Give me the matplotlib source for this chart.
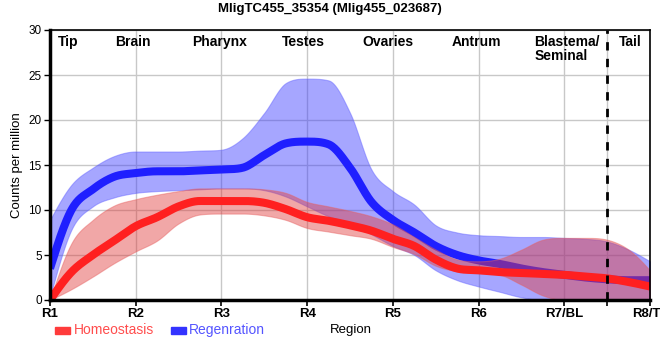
import numpy as np
import matplotlib
matplotlib.use("Agg")
import matplotlib.pyplot as plt
from matplotlib.patches import Rectangle

# ---------------- data ----------------
positions = [0, 0.25, 0.5, 0.75, 1, 1.25, 1.5, 1.75, 2, 2.25, 2.5, 2.75, 3, 3.25, 3.5,
             3.75, 4, 4.25, 4.5, 4.75, 5, 5.25, 5.5, 5.75, 6, 6.25, 6.5, 6.75, 7]
tick_pos = [0, 1, 2, 3, 4, 5, 6, 7]
tick_labels = ["R1", "R2", "R3", "R4", "R5", "R6", "R7/BL", "R8/TL"]
region_names = ["Tip", "Brain", "Pharynx", "Testes", "Ovaries", "Antrum", "Blastema/\nSeminal", "Tail"]
region_pos = [0.21, 0.97, 1.98, 2.96, 3.94, 4.98, 5.65, 6.77]
boundary = 6.5

reg_mean = [3.5, 10.0, 12.3, 13.7, 14.1, 14.3, 14.3, 14.4, 14.5, 14.7, 16.1, 17.4, 17.6, 17.3, 14.7,
            10.9, 8.9, 7.5, 6.0, 5.0, 4.4, 4.0, 3.5, 3.1, 2.8, 2.5, 2.3, 2.2, 2.2]
reg_upper = [8.9, 12.8, 14.7, 16.0, 16.5, 16.5, 16.5, 16.6, 16.7, 18.0, 20.8, 24.1, 24.6, 24.4, 20.8,
             14.5, 12.1, 10.6, 8.3, 7.5, 7.2, 7.1, 7.0, 7.0, 6.9, 6.8, 6.5, 5.6, 4.3]
reg_lower = [0.3, 7.8, 10.4, 11.4, 11.9, 12.1, 12.2, 12.3, 12.4, 12.4, 12.2, 11.5, 10.4, 9.3, 8.5,
             7.3, 6.0, 5.0, 3.3, 2.2, 1.5, 0.9, 0.3, 0.0, 0.0, 0.0, 0.0, 0.0, 0.0]

hom_mean = [0.0, 3.1, 5.0, 6.6, 8.2, 9.2, 10.4, 11.0, 11.0, 11.0, 10.8, 10.1, 9.2, 8.8, 8.3,
            7.7, 6.8, 6.0, 4.5, 3.5, 3.3, 3.1, 3.0, 2.9, 2.8, 2.6, 2.4, 2.0, 1.5]
hom_upper = [0.0, 6.3, 8.9, 10.5, 11.2, 11.7, 12.1, 12.4, 12.4, 12.4, 12.3, 11.9, 10.9, 10.4, 9.9,
             9.3, 8.4, 7.0, 5.6, 4.5, 4.3, 4.6, 5.6, 6.7, 6.9, 6.9, 6.7, 5.6, 3.3]
hom_lower = [0.0, 1.2, 2.6, 4.1, 5.4, 6.6, 8.5, 9.5, 9.6, 9.6, 9.4, 8.9, 8.0, 7.6, 7.2,
             6.8, 5.9, 5.1, 3.8, 3.2, 3.0, 2.8, 1.7, 0.5, 0.0, 0.0, 0.0, 0.0, 0.0]

title = "MligTC455_35354 (Mlig455_023687)"


# ---------------- smooth curve through the points (rendering only) ----------------
def smooth(xk, yk, n=800):
    xk = np.asarray(xk, float)
    yk = np.asarray(yk, float)
    h = np.diff(xk)
    d = np.diff(yk) / h
    m = np.zeros_like(yk)
    for i in range(1, len(yk) - 1):
        if d[i - 1] * d[i] <= 0:
            m[i] = 0.0
        else:
            c = (yk[i + 1] - yk[i - 1]) / (xk[i + 1] - xk[i - 1])
            lim = 3 * min(abs(d[i - 1]), abs(d[i]))
            m[i] = np.sign(c) * min(abs(c), lim)
    m[0] = (3 * d[0] - m[1]) / 2
    m[-1] = (3 * d[-1] - m[-2]) / 2
    xs = np.linspace(xk[0], xk[-1], n)
    idx = np.clip(np.searchsorted(xk, xs) - 1, 0, len(xk) - 2)
    t = (xs - xk[idx]) / h[idx]
    h00 = 2 * t**3 - 3 * t**2 + 1
    h10 = t**3 - 2 * t**2 + t
    h01 = -2 * t**3 + 3 * t**2
    h11 = t**3 - t**2
    ys = h00 * yk[idx] + h10 * h[idx] * m[idx] + h01 * yk[idx + 1] + h11 * h[idx] * m[idx + 1]
    return xs, ys


plt.rcParams["font.family"] = ["Liberation Sans", "DejaVu Sans"]

fig = plt.figure(figsize=(6.6, 3.6), dpi=100)
ax = fig.add_axes([50 / 660, 1 - 300 / 360, 600 / 660, 270 / 360])

blue_line = "#1f1fff"
red_line = "#ff2020"

xs, lo = smooth(positions, reg_lower)
_, hi = smooth(positions, reg_upper)
ax.fill_between(xs, lo, hi, color="#3a3aff", alpha=0.45, lw=0.8, edgecolor="#6060ff", zorder=2)
xs, ym = smooth(positions, reg_mean)
ax.plot(xs, ym, color=blue_line, lw=5.8, solid_capstyle="butt", zorder=3)

xs, lo = smooth(positions, hom_lower)
_, hi = smooth(positions, hom_upper)
ax.fill_between(xs, lo, hi, color="#e03c3c", alpha=0.45, lw=0.8, edgecolor="#e86060", zorder=4)
xs, ym = smooth(positions, hom_mean)
ax.plot(xs, ym, color=red_line, lw=5.8, solid_capstyle="butt", zorder=5)

ax.axvline(boundary, color="black", lw=2, ls=(0, (3, 3)), zorder=6)

ax.set_xlim(0, 7)
ax.set_ylim(0, 30)
ax.set_xticks(tick_pos + [boundary])
ax.set_xticklabels(tick_labels + [""], fontweight="bold", fontsize=9.5,
                   family=["Liberation Sans Narrow", "Liberation Sans"])
ax.set_yticks([0, 5, 10, 15, 20, 25, 30])
ax.tick_params(axis="y", labelsize=8.5, length=4, width=1, pad=2)
ax.tick_params(axis="x", length=4, width=1.2, pad=2)
ax.grid(True, color="#c8c8c8", lw=1, zorder=0)
ax.set_axisbelow(True)

for s in ["left", "bottom"]:
    ax.spines[s].set_linewidth(2.5)
for s in ["top", "right"]:
    ax.spines[s].set_linewidth(1.2)
for s in ax.spines.values():
    s.set_zorder(10)

for name, p in zip(region_names, region_pos):
    ha = "left" if "\n" in name else "center"
    ax.text(p, 29.4, name, ha=ha, va="top", fontsize=10, fontweight="bold",
            linespacing=1.0, zorder=7)

ax.set_ylabel("Counts per million", fontsize=9.5, labelpad=4)
fig.text(351 / 660, 1 - 330 / 360, "Region", ha="center", va="center", fontsize=9.5)
fig.text(330 / 660, 1 - 9 / 360, title, ha="center", va="center", fontsize=9.5, fontweight="bold")

# legend
fig.patches.append(Rectangle((55 / 660, 1 - 334 / 360), 15 / 660, 7 / 360,
                             transform=fig.transFigure, color="#ff3b3b"))
fig.text(74 / 660, 1 - 330 / 360, "Homeostasis", ha="left", va="center", fontsize=10,
         color="#ff4d4d", family=["Liberation Sans Narrow", "Liberation Sans"])
fig.patches.append(Rectangle((171 / 660, 1 - 334 / 360), 15 / 660, 7 / 360,
                             transform=fig.transFigure, color="#3333ff"))
fig.text(189 / 660, 1 - 330 / 360, "Regenration", ha="left", va="center", fontsize=10,
         color="#5555ff", family=["Liberation Sans Narrow", "Liberation Sans"])

fig.savefig("out.png", dpi=100)
